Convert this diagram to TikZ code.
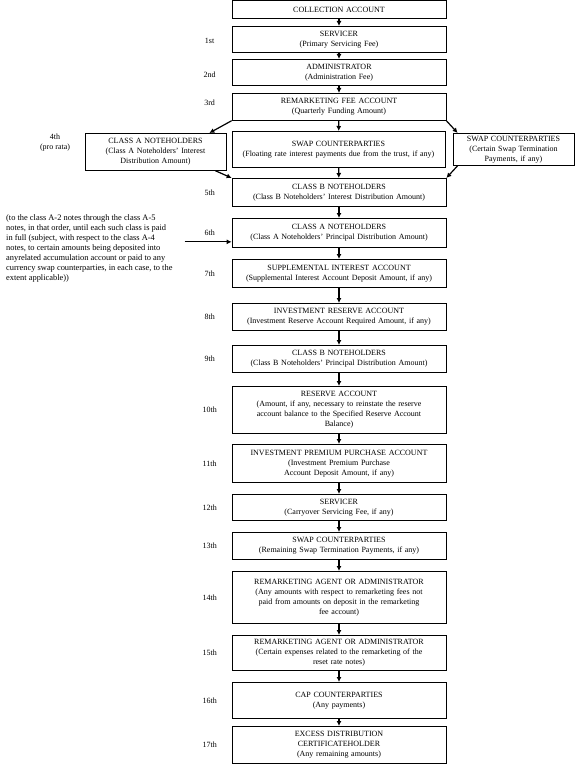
\documentclass[tikz,border=0pt]{standalone}
\usepackage{fontspec}
\setmainfont{Liberation Serif}
\usetikzlibrary{arrows.meta}

\begin{document}
\begin{tikzpicture}[x=1pt, y=-1pt,
    stage/.style={draw, line width=0.7pt, minimum width=214pt, text width=210pt,
        align=center, inner sep=1pt, anchor=north, font=\fontsize{8}{10}\selectfont},
    rank/.style={align=center, inner sep=1pt, font=\fontsize{8}{10}\selectfont},
    flow/.style={-{Latex[length=5pt,width=5pt]}, line width=1.2pt}]
    \useasboundingbox (0,0) rectangle (576,770);

    % Main column of payments
    \node[stage, minimum height=18pt] (coll) at (339,0.5) {COLLECTION ACCOUNT};
    \node[stage, minimum height=26pt] (serv) at (339,26) {SERVICER\\(Primary Servicing Fee)};
    \node[stage, minimum height=26pt] (admin) at (339,59) {ADMINISTRATOR\\(Administration Fee)};
    \node[stage, minimum height=27pt] (remfee) at (339,93) {REMARKETING FEE ACCOUNT\\(Quarterly Funding Amount)};
    \node[stage, minimum width=213pt, minimum height=36pt] (swapmid) at (338.5,131)
        {SWAP COUNTERPARTIES\\(Floating rate interest payments due from the trust, if any)};
    \node[stage, minimum height=28pt] (clsbint) at (339,178)
        {CLASS B NOTEHOLDERS\\(Class B Noteholders’ Interest Distribution Amount)};
    \node[stage, minimum height=29pt] (clsaprin) at (339,218)
        {CLASS A NOTEHOLDERS\\(Class A Noteholders’ Principal Distribution Amount)};
    \node[stage, minimum height=28pt] (supp) at (339,259)
        {SUPPLEMENTAL INTEREST ACCOUNT\\(Supplemental Interest Account Deposit Amount, if any)};
    \node[stage, minimum height=27pt] (invres) at (339,303)
        {INVESTMENT RESERVE ACCOUNT\\(Investment Reserve Account Required Amount, if any)};
    \node[stage, minimum height=27pt] (clsbprin) at (339,345)
        {CLASS B NOTEHOLDERS\\(Class B Noteholders’ Principal Distribution Amount)};
    \node[stage, minimum height=47pt] (reserve) at (339,386)
        {RESERVE ACCOUNT\\(Amount, if any, necessary to reinstate the reserve\\account balance to the Specified Reserve Account\\Balance)};
    \node[stage, minimum height=38pt] (invprem) at (339,444)
        {INVESTMENT PREMIUM PURCHASE ACCOUNT\\(Investment Premium Purchase\\Account Deposit Amount, if any)};
    \node[stage, minimum height=26pt] (serv2) at (339,494) {SERVICER\\(Carryover Servicing Fee, if any)};
    \node[stage, minimum height=27pt] (swap2) at (339,532)
        {SWAP COUNTERPARTIES\\(Remaining Swap Termination Payments, if any)};
    \node[stage, minimum height=52pt] (remag1) at (339,571)
        {REMARKETING AGENT OR ADMINISTRATOR\\(Any amounts with respect to remarketing fees not\\paid from amounts on deposit in the remarketing\\fee account)};
    \node[stage, minimum height=35pt] (remag2) at (339,635)
        {REMARKETING AGENT OR ADMINISTRATOR\\(Certain expenses related to the remarketing of the\\reset rate notes)};
    \node[stage, minimum height=36pt] (cap) at (339,682) {CAP COUNTERPARTIES\\(Any payments)};
    \node[stage, minimum height=37pt] (excess) at (339,726)
        {EXCESS DISTRIBUTION\\CERTIFICATEHOLDER\\(Any remaining amounts)};

    % Side boxes of the 4th step
    \node[stage, minimum width=141pt, text width=137pt, minimum height=37pt] (clsaint) at (155.5,133)
        {CLASS A NOTEHOLDERS\\(Class A Noteholders’ Interest\\Distribution Amount)};
    \node[stage, minimum width=121pt, text width=117pt, minimum height=32pt] (swapr) at (513.5,133)
        {SWAP COUNTERPARTIES\\(Certain Swap Termination\\Payments, if any)};

    % Order of payment
    \node[rank] (r1) at ([xshift=-22pt,yshift=-2pt]serv.west) {1st};
    \node[rank] (r2) at ([xshift=-22pt,yshift=-2pt]admin.west) {2nd};
    \node[rank] (r3) at ([xshift=-22pt,yshift=4pt]remfee.west) {3rd};
    \node[rank] (r4) at (55,143) {4th\\(pro rata)};
    \foreach \n/\stg in {5th/clsbint, 6th/clsaprin, 7th/supp, 8th/invres, 9th/clsbprin,
        10th/reserve, 11th/invprem, 12th/serv2, 13th/swap2, 14th/remag1, 15th/remag2,
        16th/cap, 17th/excess}
        \node[rank] (r\n) at ([xshift=-22pt]\stg.west) {\n};

    % Note on the class A principal
    \node[rank, align=left, anchor=north west, font=\fontsize{8.4}{10}\selectfont] (note) at (5,213)
        {(to the class A-2 notes through the class A-5\\notes, in that order, until each such class is paid\\in full (subject, with respect to the class A-4\\notes, to certain amounts being deposited into\\anyrelated accumulation account or paid to any\\currency swap counterparties, in each case, to the\\extent applicable))};
    \coordinate (notetail) at ([xshift=-47pt,yshift=-9pt]clsaprin.west);
    \draw[flow] (notetail) -- ([yshift=-9pt]clsaprin.west);

    % Arrows
    \foreach \a/\b in {coll/serv, serv/admin, admin/remfee, remfee/swapmid, swapmid/clsbint,
        clsbint/clsaprin, clsaprin/supp, supp/invres, invres/clsbprin, clsbprin/reserve,
        reserve/invprem, invprem/serv2, serv2/swap2, swap2/remag1, remag1/remag2,
        remag2/cap, cap/excess}
        \draw[flow] (\a) -- (\b);
    \draw[flow] (remfee.south west) -- ([xshift=-17pt]clsaint.north east);
    \draw[flow] ([xshift=-11pt]clsaint.south east) -- (clsbint.north west);
    \draw[flow] (remfee.south east) -- ([xshift=5pt]swapr.north west);
    \draw[flow] ([xshift=5pt]swapr.south west) -- (clsbint.north east);
\end{tikzpicture}
\end{document}
